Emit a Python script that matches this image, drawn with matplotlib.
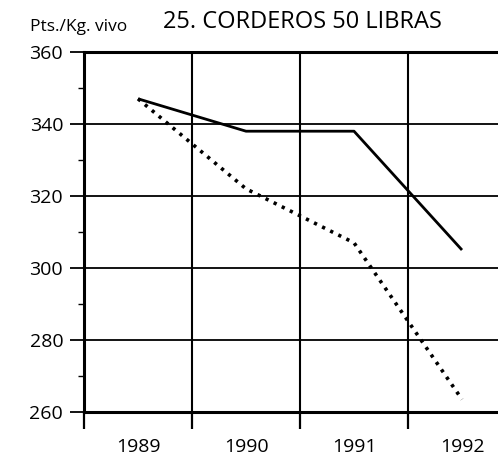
import numpy as np
import matplotlib
matplotlib.use("Agg")
import matplotlib.pyplot as plt
from matplotlib.ticker import FixedLocator, NullFormatter

plt.rcParams['font.family'] = ['Open Sans', 'DejaVu Sans']

years = ['1989', '1990', '1991', '1992']
solid = [347, 338, 338, 305]
dotted = [347, 322, 307, 263.5]

fig = plt.figure(figsize=(4.98, 4.68), dpi=100)
ax = fig.add_axes([84 / 498, 56 / 468, 414 / 498, 360 / 468])

x = np.arange(len(years)) + 0.5
ax.plot(x, solid, color='black', lw=2.0, solid_capstyle='butt')
ax.plot(x, dotted, color='black', lw=2.6, linestyle=(0, (0.9, 1.6)))

ax.set_xlim(0, 414 / 108)
ax.set_ylim(260, 360)

# vertical lines at year boundaries, labels centred between them
ax.xaxis.set_major_locator(FixedLocator([0, 1, 2, 3]))
ax.xaxis.set_major_formatter(NullFormatter())
ax.xaxis.set_minor_locator(FixedLocator(x))
ax.set_xticklabels(years, minor=True)
ax.tick_params(axis='x', which='major', length=12, width=1.6, direction='out')
ax.tick_params(axis='x', which='minor', length=0, pad=19, labelsize=14)

ax.set_yticks(np.arange(260, 361, 20))
ax.set_yticks(np.arange(270, 360, 20), minor=True)
ax.tick_params(axis='y', which='major', length=10, width=1.3, pad=5, labelsize=14)
ax.tick_params(axis='y', which='minor', length=4.5, width=1.0)

for v in [280, 300, 320, 340]:
    ax.axhline(v, color='black', lw=1.3, zorder=1)
for v in [1, 2, 3]:
    ax.axvline(v, color='black', lw=1.5, zorder=1)

for s in ['left', 'top', 'bottom']:
    ax.spines[s].set_linewidth(2.2)
ax.spines['right'].set_visible(False)

fig.text(30 / 498, 1 - 27 / 468, 'Pts./Kg. vivo', fontsize=12.5, va='center', ha='left')
fig.text(302 / 498, 1 - 22 / 468, '25. CORDEROS 50 LIBRAS', fontsize=17, va='center', ha='center')

fig.savefig('out.png', dpi=100)
